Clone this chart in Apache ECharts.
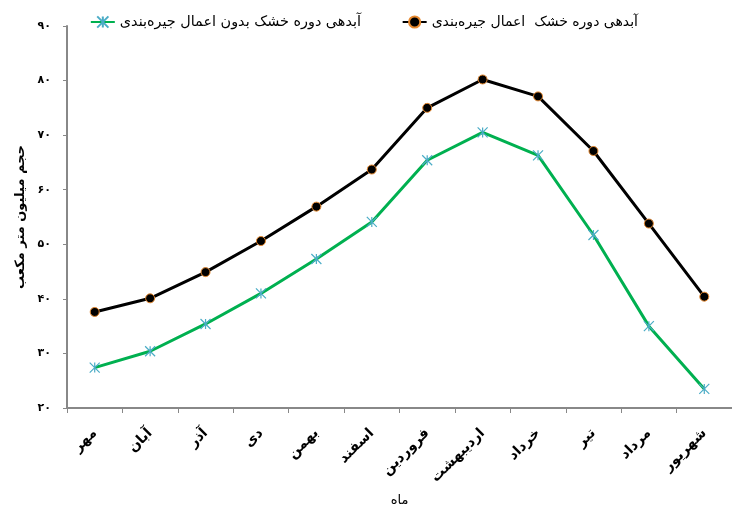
<!DOCTYPE html>
<html>
<head>
<meta charset="utf-8">
<script src="https://cdn.jsdelivr.net/npm/echarts@6/dist/echarts.min.js"></script>
<style>html,body{margin:0;padding:0;background:#fff;overflow:hidden;}#c{width:732px;height:512px;}</style>
</head>
<body>
<div id="c"></div>
<script>
const categories = ['مهر','آبان','آذر','دی','بهمن','اسفند','فروردین','اردیبهشت','خرداد','تیر','مرداد','شهریور'];
const withRationing = [37.6,40.1,44.9,50.6,56.9,63.7,75.0,80.2,77.1,67.1,53.8,40.4];
const withoutRationing = [27.4,30.4,35.4,41.0,47.3,54.1,65.4,70.5,66.3,51.7,35.0,23.5];
const yTickValues = [20,30,40,50,60,70,80,90];
const yTickLabels = ['۲۰','۳۰','۴۰','۵۰','۶۰','۷۰','۸۰','۹۰'];
const nameWith = 'آبدهی دوره خشک  اعمال جیره\u200cبندی';
const nameWithout = 'آبدهی دوره خشک بدون اعمال جیره\u200cبندی';
const yName = 'حجم میلیون متر مکعب';
const xName = 'ماه';

const FONT = '"DejaVu Sans", sans-serif';
const chart = echarts.init(document.getElementById('c'), null, {renderer:'canvas'});
chart.setOption({
  animation:false,
  backgroundColor:'#fff',
  legend:[
    {data:[nameWith], right:89, top:10, itemWidth:24, itemHeight:14, itemGap:10,
     textStyle:{fontFamily:FONT, fontSize:14, color:'#000'}},
    {data:[nameWithout], right:366, top:10, itemWidth:24, itemHeight:14, itemGap:10,
     textStyle:{fontFamily:FONT, fontSize:14.4, color:'#000'}}
  ],
  grid:{left:67, top:26, bottom:99, right:-12, containLabel:false},
  xAxis:{
    type:'category', data:categories, boundaryGap:true,
    name:xName, nameLocation:'middle', nameGap:86,
    nameTextStyle:{fontFamily:FONT, fontSize:13, color:'#000'},
    axisLine:{lineStyle:{color:'#888', width:2}},
    axisTick:{show:true, length:5, lineStyle:{color:'#888'}, alignWithLabel:false},
    axisLabel:{rotate:45, margin:23, interval:0, fontFamily:FONT, fontSize:14, fontWeight:'bold', color:'#000'},
    splitLine:{show:false}
  },
  yAxis:{
    type:'value', min:20, max:90, interval:10,
    name:yName, nameLocation:'middle', nameGap:40,
    nameTextStyle:{fontFamily:FONT, fontSize:13, fontWeight:'bold', color:'#000'},
    axisLine:{show:true, lineStyle:{color:'#888', width:2}},
    axisTick:{show:true, length:4, lineStyle:{color:'#888'}},
    axisLabel:{margin:16, fontFamily:FONT, fontSize:11, fontWeight:'bold', color:'#000',
      formatter:function(v){const i=yTickValues.indexOf(v);return i>=0?yTickLabels[i]:String(v);}},
    splitLine:{show:false}
  },
  series:[
    {name:nameWith, type:'line', data:withRationing,
     symbol:'circle', symbolSize:9,
     lineStyle:{color:'#000', width:3},
     itemStyle:{color:'#000', borderColor:'#E7892F', borderWidth:1}},
    {name:nameWithout, type:'line', data:withoutRationing,
     symbol:'path://M0,0L10,10M10,0L0,10M5,0L5,10', symbolSize:10,
     lineStyle:{color:'#00B050', width:3},
     itemStyle:{color:'#4BACC6', borderColor:'#4BACC6', borderWidth:1.2}}
  ]
});
</script>
</body>
</html>
